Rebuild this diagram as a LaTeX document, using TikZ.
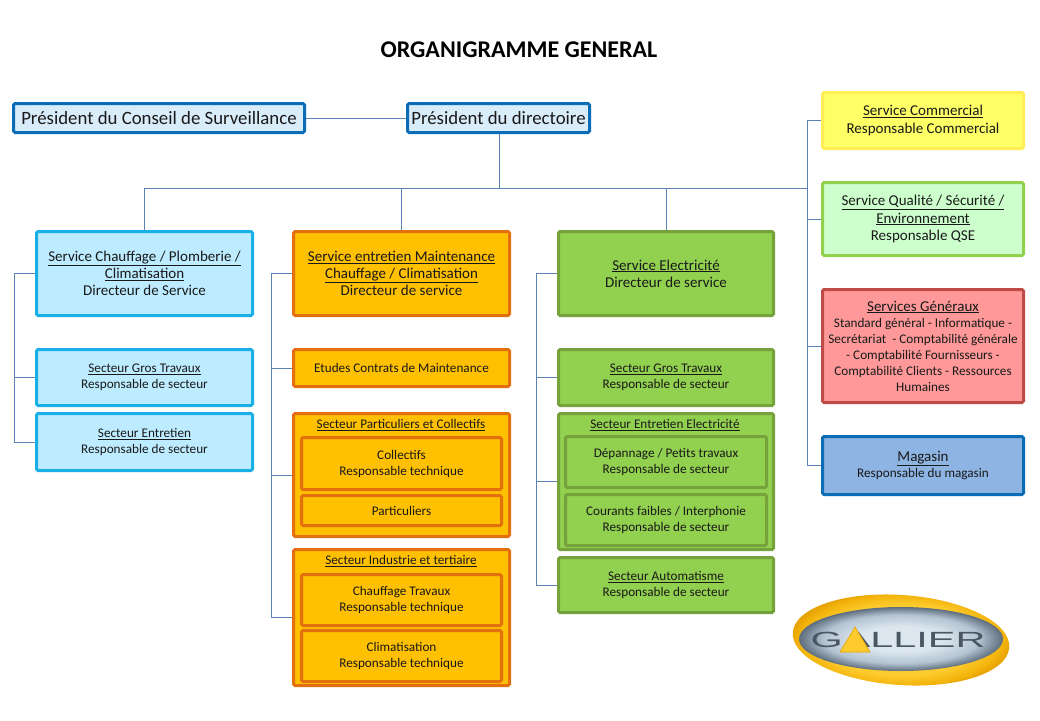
\documentclass[tikz,border=0pt]{standalone}
\usepackage{fontspec}
\setmainfont{Carlito}
\newfontfamily\logofont[FakeStretch=1.88]{Liberation Sans}
\usetikzlibrary{calc}
\definecolor{linkc}{HTML}{5B84B5}
\definecolor{blue0}{HTML}{0B6DB5}\definecolor{blue0f}{HTML}{D9ECFA}
\definecolor{cyan0}{HTML}{18B0E6}\definecolor{cyan0f}{HTML}{BDEBFF}
\definecolor{org0}{HTML}{E3700F}\definecolor{org0f}{HTML}{FFC000}
\definecolor{grn0}{HTML}{76A23C}\definecolor{grn0f}{HTML}{92D050}
\definecolor{yel0}{HTML}{FFEE55}\definecolor{yel0f}{HTML}{FFFF66}
\definecolor{ltg0}{HTML}{92D050}\definecolor{ltg0f}{HTML}{CCFFCC}
\definecolor{red0}{HTML}{BE4B48}\definecolor{red0f}{HTML}{FF9999}
\definecolor{mag0}{HTML}{0B6DB5}\definecolor{mag0f}{HTML}{8EB4E3}
\definecolor{lgA}{HTML}{DCE6EE}\definecolor{lgB}{HTML}{B4C4D2}\definecolor{lgC}{HTML}{5E6E7E}
\definecolor{lyA}{HTML}{FDCB2E}\definecolor{lyB}{HTML}{F3B40C}\definecolor{lyC}{HTML}{E8A404}
\definecolor{ltxt}{HTML}{4A5662}
\pgfdeclareradialshading{logogrey}{\pgfpointorigin}{color(0bp)=(lgA);color(10bp)=(lgA);color(19bp)=(lgB);color(25bp)=(lgC);color(50bp)=(lgC)}
\pgfdeclareradialshading{logoyel}{\pgfpointorigin}{color(0bp)=(lyA);color(18bp)=(lyA);color(23bp)=(lyB);color(25bp)=(lyC);color(50bp)=(lyC)}
\tikzset{
  base/.style={draw,rectangle,rounded corners=1.5pt,line width=3pt,inner sep=1pt,align=center,text=black!90},
  topbox/.style={base,draw=blue0,fill=blue0f,font=\fontsize{18.8}{22}\selectfont},
  cyanbox/.style={base,draw=cyan0,fill=cyan0f},
  orgbox/.style={base,draw=org0,fill=org0f},
  grnbox/.style={base,draw=grn0,fill=grn0f},
  yelbox/.style={base,draw=yel0,fill=yel0f},
  ltgbox/.style={base,draw=ltg0,fill=ltg0f},
  redbox/.style={base,draw=red0,fill=red0f},
  magbox/.style={base,draw=mag0,fill=mag0f},
  big/.style={font=\fontsize{15}{17.2}\selectfont},
  small/.style={font=\fontsize{13.2}{16}\selectfont},
  heading/.style={align=center,inner sep=0pt,text=black!90,font=\fontsize{13.2}{15}\selectfont},
  link/.style={draw=linkc,line width=1pt},
  titletext/.style={font=\fontsize{24}{28}\selectfont\bfseries,inner sep=0pt},
}
\newcommand{\hd}{\fontsize{15}{17}\selectfont}
\newcommand{\bx}[7]{%
  \pgfmathsetmacro\cxv{(#3+#5)/2}\pgfmathsetmacro\cyv{(#4+#6)/2}%
  \node[#2,minimum width={(#5-#3-3)*1pt},minimum height={(#6-#4-3)*1pt}] (#1) at (\cxv,\cyv) {#7};}
\begin{document}
\begin{tikzpicture}[x=1pt,y=-1pt]
\useasboundingbox (0,0) rectangle (1040,720);
\fill[white] (0,0) rectangle (1040,720);
\node[titletext] (title) at (519,50) {ORGANIGRAMME GENERAL};

% top row
\bx{pcs}{topbox}{12}{102}{306}{134}{Président du Conseil de Surveillance}
\bx{pd}{topbox}{406}{102}{591}{134}{Président du directoire}

% right column
\bx{sc}{yelbox,big}{821}{91}{1025}{150}{\underline{Service Commercial}\\Responsable Commercial}
\bx{sq}{ltgbox,big}{821}{181}{1025}{257}{\underline{Service Qualité / Sécurité /}\\\underline{Environnement}\\Responsable QSE}
\bx{sg}{redbox,small}{821}{288}{1025}{404}{{\hd\underline{Services Généraux}}\\Standard général - Informatique -\\Secrétariat\ \ - Comptabilité générale\\- Comptabilité Fournisseurs -\\Comptabilité Clients - Ressources\\Humaines}
\bx{mg}{magbox,small}{821}{435}{1025}{496}{{\hd\underline{Magasin}}\\Responsable du magasin}

% column 1
\bx{c1}{cyanbox,big}{35}{230}{254}{317}{\underline{Service Chauffage / Plomberie /}\\\underline{Climatisation}\\Directeur de Service}
\bx{c1a}{cyanbox,small}{35}{348}{254}{407}{\underline{Secteur Gros Travaux}\\Responsable de secteur}
\bx{c1b}{cyanbox,small}{35}{412}{254}{472}{\underline{Secteur Entretien}\\Responsable de secteur}

% column 2
\bx{c2}{orgbox,big}{292}{230}{511}{317}{\underline{Service entretien Maintenance}\\\underline{Chauffage / Climatisation}\\Directeur de service}
\bx{c2a}{orgbox,small}{292}{348}{511}{388}{Etudes Contrats de Maintenance}
\bx{c2b}{orgbox}{292}{412}{511}{538}{}
\node[heading] (c2bh) at (401,425) {\underline{Secteur Particuliers et Collectifs}};
\bx{c2b1}{orgbox,small}{300}{436}{503}{491}{Collectifs\\Responsable technique}
\bx{c2b2}{orgbox,small}{300}{494}{503}{527}{Particuliers}
\bx{c2c}{orgbox}{292}{548}{511}{687}{}
\node[heading] (c2ch) at (401,561) {\underline{Secteur Industrie et tertiaire}};
\bx{c2c1}{orgbox,small}{300}{573}{503}{627}{Chauffage Travaux\\Responsable technique}
\bx{c2c2}{orgbox,small}{300}{629}{503}{683}{Climatisation\\Responsable technique}

% column 3
\bx{c3}{grnbox,big}{557}{230}{775}{317}{\underline{Service Electricité}\\Directeur de service}
\bx{c3a}{grnbox,small}{557}{348}{775}{407}{\underline{Secteur Gros Travaux}\\Responsable de secteur}
\bx{c3b}{grnbox}{557}{412}{775}{551}{}
\node[heading] (c3bh) at (665,425) {\underline{Secteur Entretien Electricité}};
\bx{c3b1}{grnbox,small}{564}{435}{768}{489}{Dépannage / Petits travaux\\Responsable de secteur}
\bx{c3b2}{grnbox,small}{564}{493}{768}{547}{Courants faibles / Interphonie\\Responsable de secteur}
\bx{c3c}{grnbox,small}{557}{556}{775}{614}{\underline{Secteur Automatisme}\\Responsable de secteur}

% connectors
\coordinate (bus) at (499,188);
\coordinate (rbus) at (807,188);
\coordinate (b1) at (14,273.5);
\coordinate (b2) at (271,273.5);
\coordinate (b3) at (536,273.5);
\draw[link] (pcs.east) -- (pd.west);
\draw[link] (pd.south -| bus) -- (bus);
\draw[link] (bus) -| (c1.north);
\draw[link] (bus) -| (c2.north);
\draw[link] (bus) -| (c3.north);
\draw[link] (bus) -- (rbus);
\draw[link] (rbus) |- (sc.west);
\draw[link] (rbus) |- (sq.west);
\draw[link] (rbus) |- (sg.west);
\draw[link] (rbus) |- (mg.west);
\draw[link] (c1.west) -- (b1);
\draw[link] (b1) |- (c1a.west);
\draw[link] (b1) |- (c1b.west);
\draw[link] (c2.west) -- (b2);
\draw[link] (b2) |- (c2a.west);
\draw[link] (b2) |- (c2b.west);
\draw[link] (b2) |- (c2c.west);
\draw[link] (c3.west) -- (b3);
\draw[link] (b3) |- (c3a.west);
\draw[link] (b3) |- (c3b.west);
\draw[link] (b3) |- (c3c.west);

% logo
\shade[shading=logoyel,rotate around={-4:(901,640)}] (901,640) ellipse [x radius=108.5,y radius=45];
\shade[shading=logogrey] (901,639) ellipse [x radius=102,y radius=32];
\node[inner sep=0pt,text=ltxt,font=\logofont\fontsize{22}{22}\selectfont] (logo) at (898,640) {GALLIER};
\fill[lyA,draw=lyC,line width=.6pt] (855,627) -- (870,652) -- (840,652) -- cycle;
\end{tikzpicture}
\end{document}
